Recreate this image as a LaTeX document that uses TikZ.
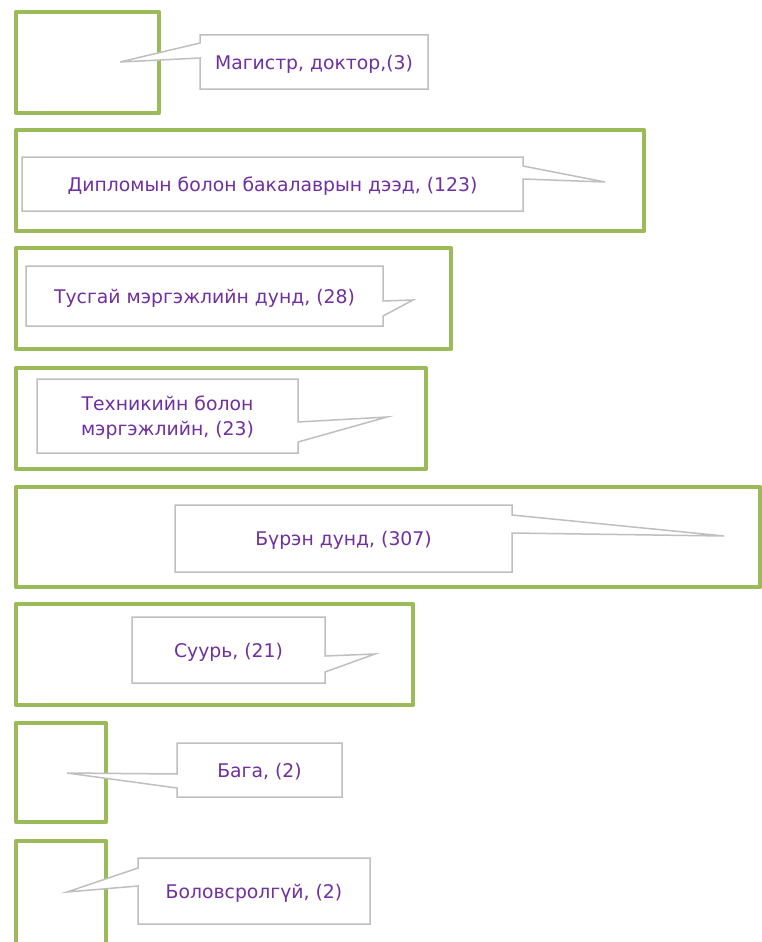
\documentclass[tikz,border=0pt]{standalone}
\usepackage{fontspec}
\setmainfont{DejaVu Sans}
\definecolor{levelgreen}{HTML}{9BBB59}
\definecolor{callgray}{HTML}{BFBFBF}
\definecolor{labelpurple}{HTML}{7030A0}
\pgfdeclarelayer{back}
\pgfdeclarelayer{mid}
\pgfsetlayers{back,mid,main}
\tikzset{
    levelbox/.style={draw=levelgreen, line width=4.5pt, line join=round, inner sep=0pt, outer sep=0pt, anchor=north west},
    calltext/.style={anchor=north west, inner sep=0pt, outer sep=0pt, align=center, text depth=0pt, text=labelpurple, font=\fontsize{18.8}{25}\selectfont},
    callline/.style={draw=callgray, line width=1.5pt, fill=white, line join=miter}
}
\begin{document}
\begin{tikzpicture}[x=1pt, y=-1pt]
    \useasboundingbox (0,0) rectangle (761,942);
    % green level boxes: number / top / right / bottom
    \begin{pgfonlayer}{back}
        \foreach \i/\top/\right/\bottom in {1/12/159/113, 2/130/644/231, 3/248/451/349, 4/368/426/469,
                5/487/760/587, 6/604/413/705, 7/723/106/822, 8/841/106/946} {
            \node[levelbox, minimum width={(\right-16)*1pt}, minimum height={(\bottom-\top)*1pt}] (lvl\i) at (16,\top) {};
        }
    \end{pgfonlayer}

    % callouts, pointer on the left
    \node[calltext, minimum width=228pt, minimum height=54pt] (c1) at (200,35) {Магистр, доктор,(3)};
    \coordinate (t1) at (120,62);
    \begin{pgfonlayer}{mid}
        \draw[callline] ([yshift=-8pt]c1.north west) -- (c1.north west) -- (c1.north east) -- (c1.south east)
            -- (c1.south west) -- ([yshift=-23pt]c1.north west) -- (t1) -- cycle;
    \end{pgfonlayer}

    % callouts, pointer on the right
    \node[calltext, minimum width=501pt, minimum height=54pt] (c2) at (22,157) {Дипломын болон бакалаврын дээд, (123)};
    \coordinate (t2) at (605,182);
    \begin{pgfonlayer}{mid}
        \draw[callline] ([yshift=-9pt]c2.north east) -- (c2.north east) -- (c2.north west) -- (c2.south west)
            -- (c2.south east) -- ([yshift=-22pt]c2.north east) -- (t2) -- cycle;
    \end{pgfonlayer}

    \node[calltext, minimum width=357pt, minimum height=60pt] (c3) at (26,266) {Тусгай мэргэжлийн дунд, (28)};
    \coordinate (t3) at (413,300);
    \begin{pgfonlayer}{mid}
        \draw[callline] ([yshift=-35pt]c3.north east) -- (c3.north east) -- (c3.north west) -- (c3.south west)
            -- (c3.south east) -- ([yshift=-50pt]c3.north east) -- (t3) -- cycle;
    \end{pgfonlayer}

    \node[calltext, minimum width=261pt, minimum height=74pt] (c4) at (37,379) {Техникийн болон\\мэргэжлийн, (23)};
    \coordinate (t4) at (387,417);
    \begin{pgfonlayer}{mid}
        \draw[callline] ([yshift=-43pt]c4.north east) -- (c4.north east) -- (c4.north west) -- (c4.south west)
            -- (c4.south east) -- ([yshift=-63pt]c4.north east) -- (t4) -- cycle;
    \end{pgfonlayer}

    \node[calltext, minimum width=337pt, minimum height=67pt] (c5) at (175,505) {Бүрэн дунд, (307)};
    \coordinate (t5) at (724,536);
    \begin{pgfonlayer}{mid}
        \draw[callline] ([yshift=-10pt]c5.north east) -- (c5.north east) -- (c5.north west) -- (c5.south west)
            -- (c5.south east) -- ([yshift=-28pt]c5.north east) -- (t5) -- cycle;
    \end{pgfonlayer}

    \node[calltext, minimum width=193pt, minimum height=66pt] (c6) at (132,617) {Суурь, (21)};
    \coordinate (t6) at (375,654);
    \begin{pgfonlayer}{mid}
        \draw[callline] ([yshift=-39pt]c6.north east) -- (c6.north east) -- (c6.north west) -- (c6.south west)
            -- (c6.south east) -- ([yshift=-55pt]c6.north east) -- (t6) -- cycle;
    \end{pgfonlayer}

    % last two point left again
    \node[calltext, minimum width=165pt, minimum height=54pt] (c7) at (177,743) {Бага, (2)};
    \coordinate (t7) at (67,773);
    \begin{pgfonlayer}{mid}
        \draw[callline] ([yshift=-31pt]c7.north west) -- (c7.north west) -- (c7.north east) -- (c7.south east)
            -- (c7.south west) -- ([yshift=-45pt]c7.north west) -- (t7) -- cycle;
    \end{pgfonlayer}

    \node[calltext, minimum width=232pt, minimum height=66pt] (c8) at (138,858) {Боловсролгүй, (2)};
    \coordinate (t8) at (67,892);
    \begin{pgfonlayer}{mid}
        \draw[callline] ([yshift=-10pt]c8.north west) -- (c8.north west) -- (c8.north east) -- (c8.south east)
            -- (c8.south west) -- ([yshift=-28pt]c8.north west) -- (t8) -- cycle;
    \end{pgfonlayer}
\end{tikzpicture}
\end{document}
